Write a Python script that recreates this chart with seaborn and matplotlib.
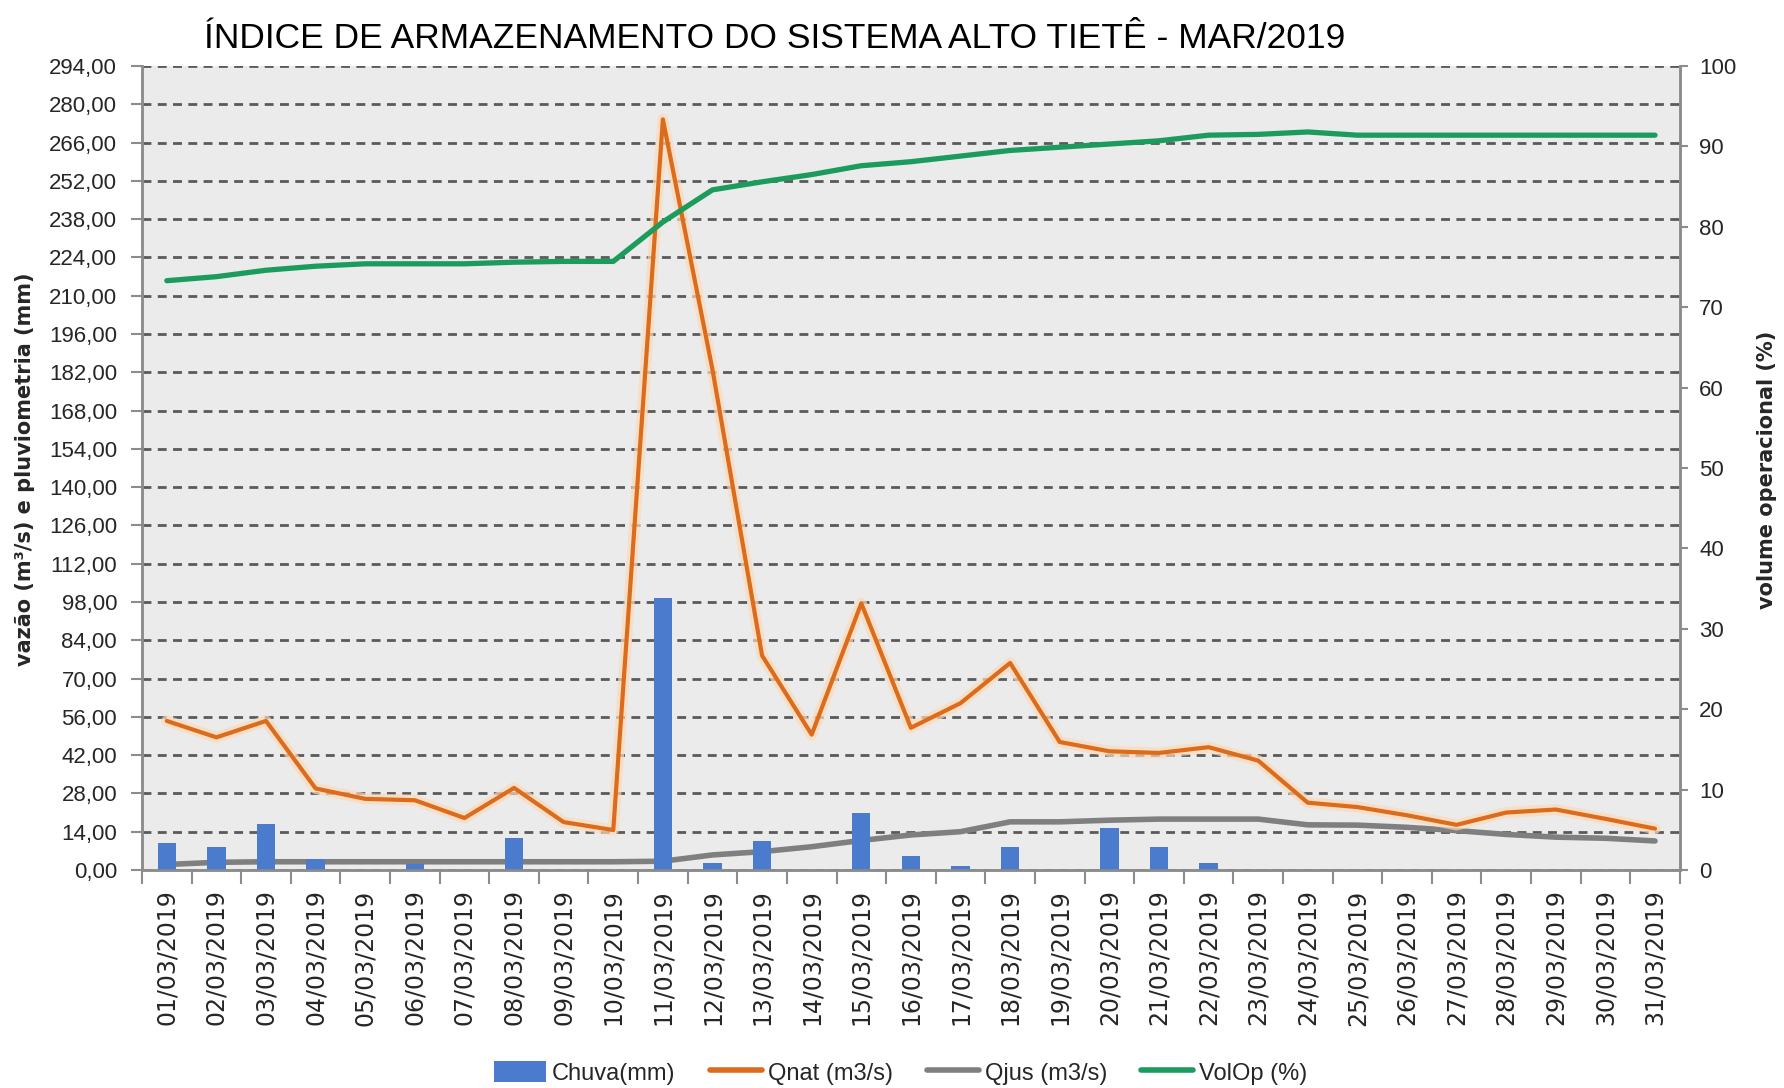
"""Índice de armazenamento do Sistema Alto Tietê - março/2019."""

import numpy as np
import pandas as pd
import matplotlib
matplotlib.use("Agg")
import matplotlib.pyplot as plt
import matplotlib.patheffects as pe
from matplotlib import font_manager
from matplotlib.lines import Line2D
from matplotlib.patches import Patch
import seaborn as sns

# --- dados ---
dias = [
    "01/03/2019", "02/03/2019", "03/03/2019", "04/03/2019", "05/03/2019",
    "06/03/2019", "07/03/2019", "08/03/2019", "09/03/2019", "10/03/2019",
    "11/03/2019", "12/03/2019", "13/03/2019", "14/03/2019", "15/03/2019",
    "16/03/2019", "17/03/2019", "18/03/2019", "19/03/2019", "20/03/2019",
    "21/03/2019", "22/03/2019", "23/03/2019", "24/03/2019", "25/03/2019",
    "26/03/2019", "27/03/2019", "28/03/2019", "29/03/2019", "30/03/2019",
    "31/03/2019",
]
chuva = [9.7, 8.4, 16.9, 4.0, 0.0, 2.0, 0.0, 11.8, 0.0, 0.0,
         99.5, 2.7, 10.6, 0.0, 20.7, 5.1, 1.5, 8.3, 0.0, 15.2,
         8.3, 2.4, 0.0, 0.0, 0.0, 0.0, 0.0, 0.0, 0.0, 0.0, 0.0]
qnat = [54.5, 48.5, 54.5, 29.8, 26.0, 25.5, 19.0, 30.0, 17.5, 14.6,
        274.5, 183.0, 78.4, 49.5, 97.5, 52.0, 61.0, 75.7, 46.8, 43.4,
        42.8, 44.9, 40.0, 24.6, 23.0, 20.0, 16.5, 21.0, 22.1, 18.7, 15.1]
qjus = [2.0, 2.8, 3.0, 3.0, 3.0, 3.0, 3.0, 3.0, 3.0, 3.0,
        3.2, 5.5, 6.7, 8.5, 10.8, 12.8, 14.0, 17.6, 17.6, 18.2,
        18.6, 18.6, 18.6, 16.5, 16.4, 15.6, 14.4, 13.0, 12.0, 11.6, 10.6]
volop = [73.3, 73.8, 74.6, 75.1, 75.4, 75.4, 75.4, 75.6, 75.7, 75.7,
         80.6, 84.6, 85.6, 86.5, 87.6, 88.1, 88.8, 89.5, 89.9, 90.3,
         90.7, 91.4, 91.5, 91.8, 91.4, 91.4, 91.4, 91.4, 91.4, 91.4, 91.4]

left_ticks = np.arange(0, 295, 14)
right_ticks = np.arange(0, 101, 10)

AZUL = "#4a7bcc"
LARANJA = "#dc6c1c"
CINZA = "#7f7f7f"
VERDE = "#1c9c5c"
GRADE = "#5a5a5a"
EIXO = "#8c8c8c"

sns.set_theme(style="ticks")
plt.rcParams["font.family"] = ["DejaVu Sans"]

nomes = {f.name for f in font_manager.fontManager.ttflist}
if "Liberation Sans Narrow" in nomes:
    fonte_titulo, tam_titulo = "Liberation Sans Narrow", 29
else:
    fonte_titulo, tam_titulo = "Liberation Sans", 25.5

df = pd.DataFrame({
    "dia": dias,
    "pos": np.arange(len(dias)),
    "chuva": chuva,
    "qnat": qnat,
    "qjus": qjus,
    "volop": volop,
})

fig = plt.figure(figsize=(17.84, 10.88), dpi=100)
ax = fig.add_axes([0.0796, 0.2004, 0.862, 0.7389])
ax.set_facecolor("#ebebeb")

sns.lineplot(data=df, x="pos", y="qjus", ax=ax, color=CINZA, lw=4, legend=False, zorder=2)
sns.lineplot(data=df, x="pos", y="qnat", ax=ax, color=LARANJA, lw=3, legend=False, zorder=2.5)
# leve brilho em volta da linha de vazão natural
ax.lines[-1].set_path_effects([pe.Stroke(linewidth=8, foreground="#fbd9b8", alpha=0.7),
                               pe.Normal()])
sns.barplot(data=df, x="pos", y="chuva", ax=ax, native_scale=True, width=0.37,
            color=AZUL, saturation=1, errorbar=None, linewidth=0, zorder=3)

ax.set_xlim(-0.5, len(dias) - 0.5)
ax.set_ylim(0, 294)
ax.set_yticks(left_ticks)
ax.set_yticklabels([f"{v:.2f}".replace(".", ",") for v in left_ticks],
                   fontfamily="Liberation Sans", fontsize=16)
ax.yaxis.grid(True, linestyle=(0, (3.2, 2.3)), color=GRADE, lw=2)
ax.set_axisbelow(True)

ax.set_xticks(df["pos"])
ax.set_xticklabels(dias, rotation=90, fontsize=17, fontfamily="DejaVu Sans")
ax.set_xticks(np.arange(-0.5, len(dias), 1), minor=True)
ax.tick_params(axis="x", which="major", length=0, pad=14)
ax.tick_params(axis="x", which="minor", length=10, width=1.5, color=EIXO)
ax.tick_params(axis="y", length=8, width=1.5, color=EIXO, pad=10)
ax.set_xlabel("")
ax.set_ylabel("")

for lado in ["left", "right", "bottom"]:
    ax.spines[lado].set_color(EIXO)
    ax.spines[lado].set_linewidth(1.8)
ax.spines["top"].set_visible(False)

ax2 = ax.twinx()
sns.lineplot(data=df, x="pos", y="volop", ax=ax2, color=VERDE, lw=3.8, legend=False)
ax2.set_ylim(0, 100)
ax2.set_yticks(right_ticks)
ax2.set_yticklabels([str(v) for v in right_ticks], fontfamily="Liberation Sans", fontsize=16)
ax2.tick_params(axis="y", length=6, width=1.5, color=EIXO, pad=8)
ax2.set_ylabel("")
for lado in ["left", "right", "bottom"]:
    ax2.spines[lado].set_color(EIXO)
    ax2.spines[lado].set_linewidth(1.8)
ax2.spines["top"].set_visible(False)

fig.text(0.434, 0.965, "ÍNDICE DE ARMAZENAMENTO DO SISTEMA ALTO TIETÊ - MAR/2019",
         ha="center", va="center", fontsize=tam_titulo, fontfamily=fonte_titulo, color="black")
fig.text(0.014, 0.569, "vazão (m³/s) e pluviometria (mm)", rotation=90,
         ha="center", va="center", fontsize=15, fontweight="bold")
fig.text(0.9907, 0.568, "volume operacional (%)", rotation=90,
         ha="center", va="center", fontsize=15, fontweight="bold")

handles = [
    Patch(facecolor=AZUL, edgecolor="none"),
    Line2D([0], [0], color=LARANJA, lw=4),
    Line2D([0], [0], color=CINZA, lw=4),
    Line2D([0], [0], color=VERDE, lw=4),
]
labels = ["Chuva(mm)", "Qnat (m3/s)", "Qjus (m3/s)", "VolOp (%)"]
fig.legend(handles, labels, loc="center", bbox_to_anchor=(0.505, 0.0138), ncol=4,
           frameon=False, handlelength=2.2, handleheight=1.0,
           columnspacing=1.45, handletextpad=0.25,
           prop={"family": "Liberation Sans", "size": 17})

fig.savefig("out.png", dpi=100)
